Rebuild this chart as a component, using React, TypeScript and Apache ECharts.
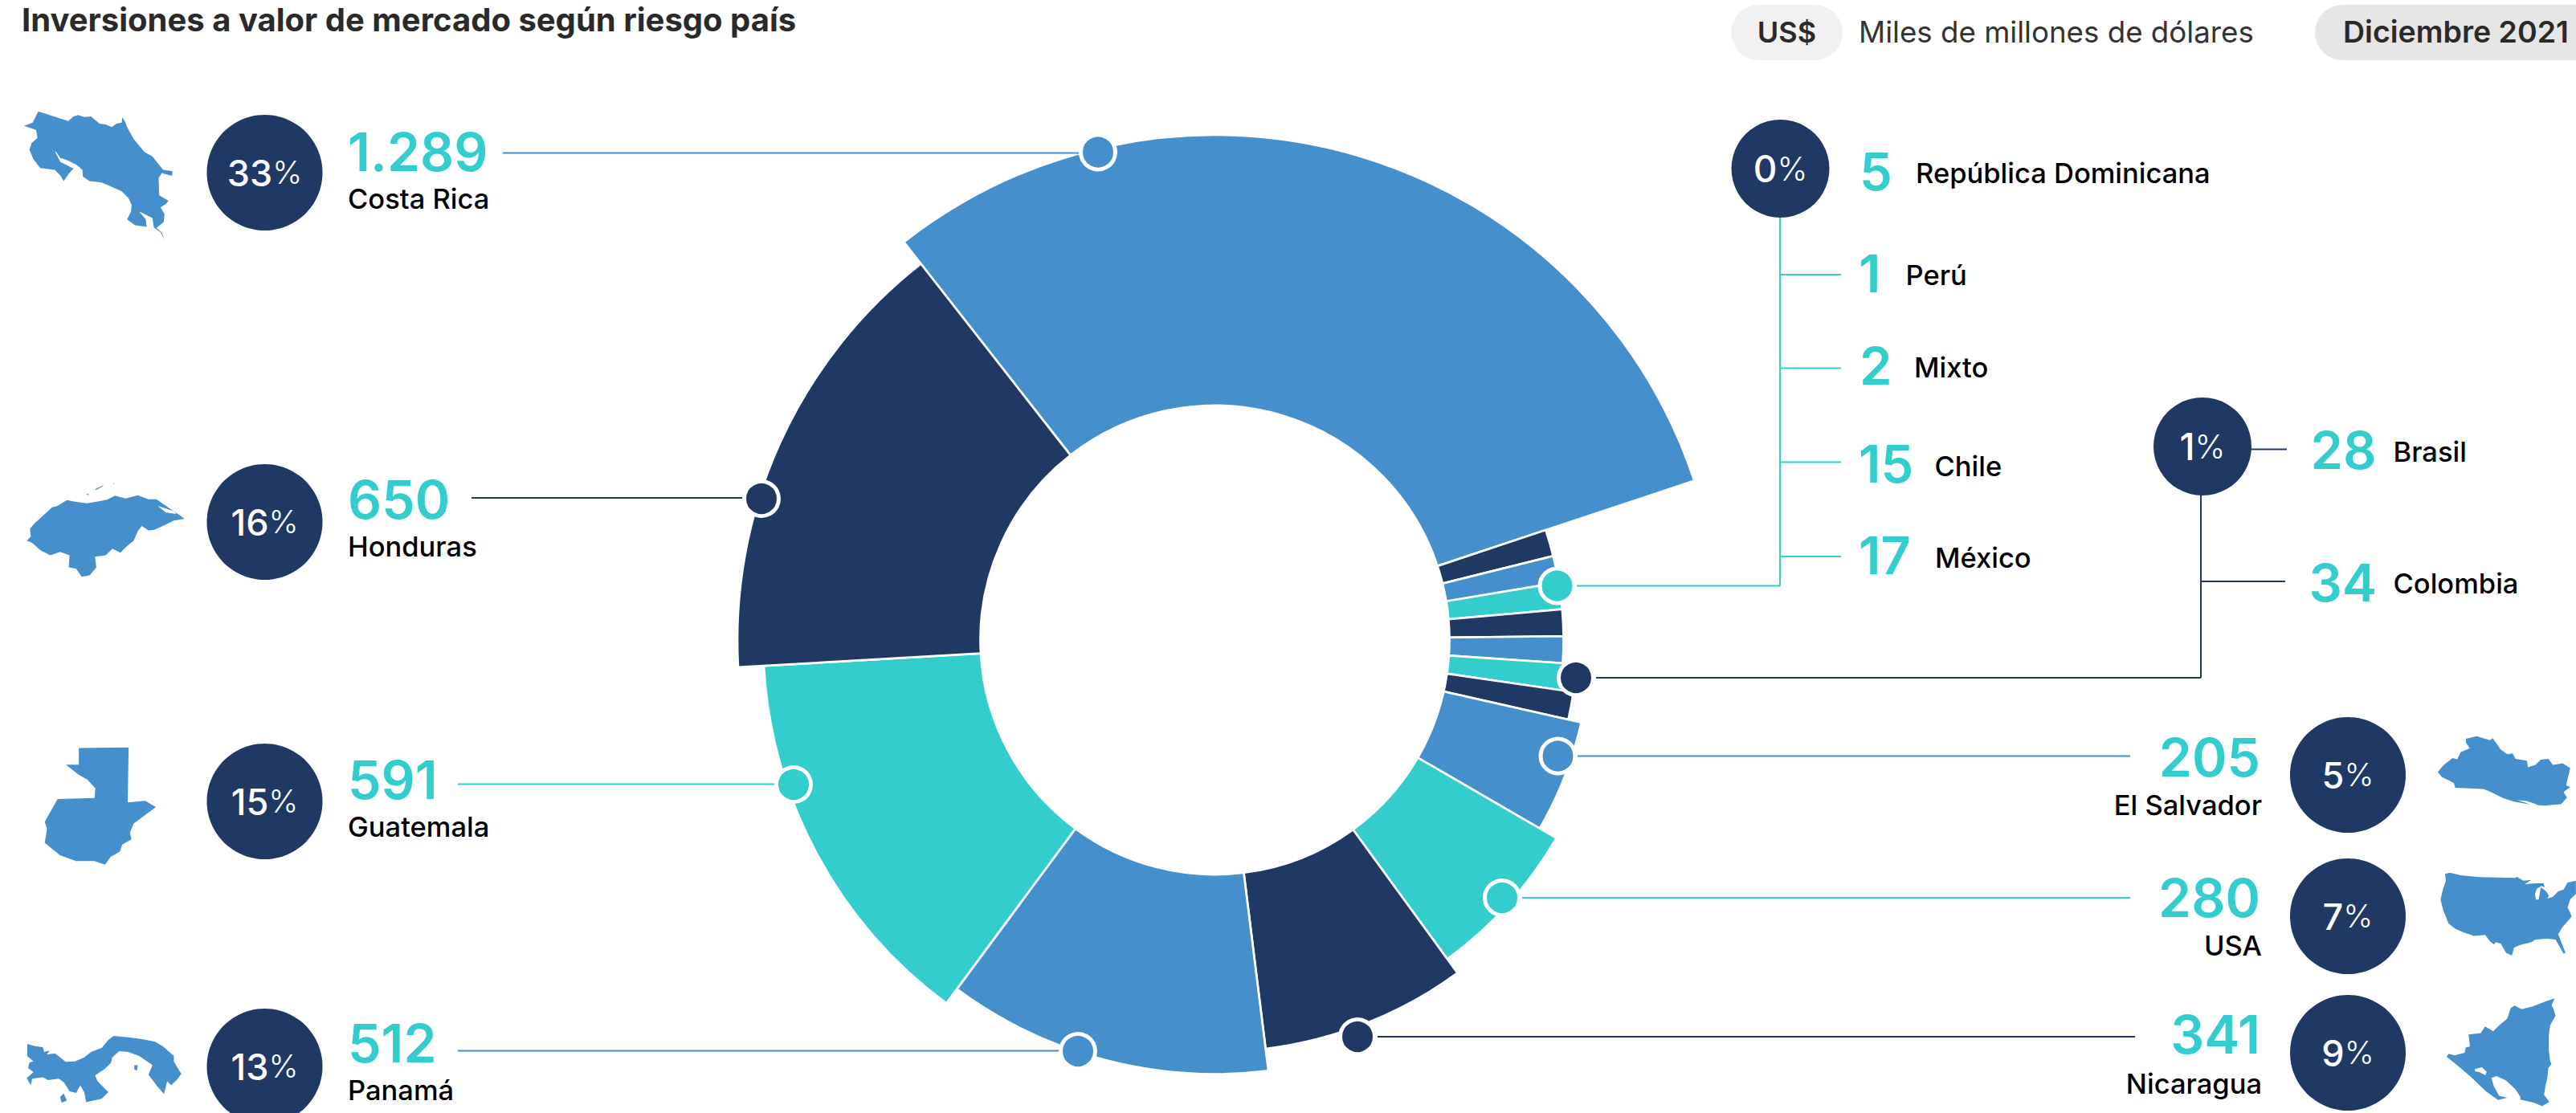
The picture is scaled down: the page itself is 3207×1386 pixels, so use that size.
import React, { useEffect, useRef } from "react";
import * as echarts from "echarts";

// Slices run clockwise, starting with the largest position.
const categories = ["Costa Rica", "República Dominicana", "Perú", "Mixto", "Chile", "México", "Brasil", "Colombia", "El Salvador", "USA", "Nicaragua", "Panamá", "Guatemala", "Honduras"];
const investedValues = [1289, 5, 1, 2, 15, 17, 28, 34, 205, 280, 341, 512, 591, 650];
const valueLabels = ["1.289", "5", "1", "2", "15", "17", "28", "34", "205", "280", "341", "512", "591", "650"];
const groupShares = ["33", "0", "1", "5", "7", "9", "13", "15", "16"];

const TITLE = "Inversiones a valor de mercado según riesgo país";
const CURRENCY = "US$";
const UNIT = "Miles de millones de dólares";
const PERIOD = "Diciembre 2021";

const BLUE = "#468FCD";
const NAVY = "#203864";
const TEAL = "#33CDCD";
const FONT = "Inter, 'Noto Sans', sans-serif";

const sliceColors = [BLUE, NAVY, BLUE, TEAL, NAVY, BLUE, TEAL, NAVY, BLUE, TEAL, NAVY, BLUE, TEAL, NAVY];
const outerRadii = [629, 434, 434, 434, 434, 434, 451, 451, 467.5, 491.5, 513, 540.5, 562.5, 594.5];
const INNER_RADIUS = 292;
const CENTER: [number, number] = [1512.5, 797];
const START_ANGLE = 128;
const MIN_SLICE_ANGLE = 4.44;

// Country silhouettes: outline points on a grid, with the grid's placement on the page.
type Outline = { points: number[][]; extra?: number[][][]; holes?: number[][][]; ox: number; oy: number; sx: number; sy: number };
const third = { sx: 1 / 3, sy: 1 / 3 };

const costaRicaOutline: Outline = { ...third, ox: 20, oy: 130, points: [[83, 26], [195, 62], [215, 45], [232, 40], [255, 47], [280, 45], [312, 72], [335, 75], [358, 85], [375, 72], [395, 68], [397, 48], [408, 65], [415, 85], [440, 130], [480, 178], [510, 195], [530, 220], [550, 245], [585, 250], [583, 267], [545, 257], [533, 275], [535, 340], [570, 360], [560, 372], [540, 385], [555, 410], [552, 440], [525, 462], [545, 480], [555, 505], [540, 478], [515, 460], [510, 425], [490, 415], [460, 400], [485, 430], [488, 458], [445, 452], [415, 430], [430, 400], [432, 375], [420, 350], [395, 325], [350, 305], [320, 292], [275, 287], [250, 270], [248, 245], [225, 225], [190, 208], [165, 200], [150, 178], [145, 175], [165, 215], [215, 240], [200, 255], [178, 287], [165, 265], [145, 245], [90, 238], [65, 205], [50, 170], [58, 145], [80, 125], [75, 95], [30, 80], [62, 68]] };
const hondurasOutline: Outline = { ...third, ox: 20, oy: 590, points: [[40, 250], [55, 235], [52, 205], [70, 185], [135, 125], [155, 120], [190, 98], [225, 105], [265, 110], [310, 103], [340, 97], [370, 82], [410, 92], [455, 80], [495, 95], [525, 95], [575, 130], [605, 150], [630, 168], [590, 175], [555, 192], [515, 210], [495, 212], [470, 195], [455, 215], [440, 250], [415, 270], [390, 295], [360, 280], [335, 305], [295, 310], [300, 350], [275, 380], [245, 385], [225, 355], [197, 350], [200, 305], [165, 292], [128, 305], [90, 285], [60, 258]], extra: [[[295, 58], [328, 42], [322, 48], [300, 60]], [[262, 76], [272, 75], [270, 80]], [[362, 38], [368, 34], [365, 40]]], holes: [[[530, 120], [590, 140], [600, 150], [560, 145]]] };
const guatemalaOutline: Outline = { ox: 0, oy: 700, sx: 1 / 1.742, sy: 1 / 2.286, points: [[171, 530], [279, 528], [277, 685], [315, 680], [338, 698], [290, 745], [282, 770], [285, 790], [265, 805], [260, 825], [240, 840], [228, 862], [205, 852], [165, 852], [130, 835], [97, 800], [102, 760], [97, 740], [125, 675], [205, 672], [207, 645], [190, 620], [170, 605], [143, 577], [171, 577]] };
const panamaOutline: Outline = { ...third, ox: 20, oy: 1280, points: [[42, 60], [70, 68], [100, 72], [105, 90], [125, 85], [115, 100], [145, 95], [165, 110], [185, 127], [220, 125], [255, 110], [280, 90], [320, 75], [345, 45], [365, 30], [420, 35], [470, 42], [520, 52], [550, 70], [590, 105], [590, 125], [610, 160], [618, 172], [600, 195], [580, 215], [565, 200], [553, 248], [525, 215], [495, 175], [510, 140], [490, 125], [460, 105], [420, 90], [385, 87], [360, 110], [355, 130], [330, 155], [295, 178], [305, 200], [345, 240], [320, 265], [262, 278], [255, 240], [240, 215], [225, 243], [200, 237], [180, 205], [160, 190], [120, 195], [100, 185], [60, 190], [55, 215], [40, 188], [65, 165], [45, 150], [50, 130], [65, 125], [42, 105]], extra: [[[165, 258], [178, 245], [190, 272], [170, 280]], [[442, 140], [455, 140], [452, 160], [442, 155]]] };
const elSalvadorOutline: Outline = { ...third, ox: 3020, oy: 900, points: [[150, 60], [190, 50], [240, 65], [250, 58], [280, 100], [305, 118], [325, 115], [335, 135], [378, 142], [382, 167], [410, 158], [430, 138], [458, 135], [475, 158], [512, 152], [540, 170], [530, 210], [525, 235], [540, 240], [515, 260], [528, 280], [505, 305], [440, 310], [385, 305], [330, 295], [290, 282], [235, 255], [215, 248], [110, 243], [105, 225], [60, 203], [45, 185], [65, 160], [100, 132], [118, 137], [130, 110], [165, 95], [150, 75]], holes: [[[340, 290], [375, 292], [400, 300], [420, 308], [395, 308], [370, 298]]] };
const usaOutline: Outline = { ...third, ox: 3020, oy: 1075, points: [[72, 40], [90, 35], [130, 45], [200, 52], [335, 55], [340, 50], [365, 65], [395, 62], [370, 78], [410, 75], [440, 75], [445, 90], [432, 85], [415, 95], [408, 115], [412, 137], [422, 135], [430, 90], [450, 105], [460, 120], [455, 132], [475, 125], [495, 105], [515, 98], [530, 72], [561, 65], [561, 115], [540, 135], [530, 165], [540, 185], [545, 200], [510, 240], [495, 265], [522, 335], [515, 338], [485, 285], [455, 282], [410, 285], [395, 295], [355, 305], [330, 315], [322, 345], [300, 335], [280, 300], [262, 295], [255, 303], [240, 292], [222, 268], [180, 272], [140, 258], [110, 245], [85, 225], [65, 175], [55, 135], [65, 95], [75, 65]] };
const nicaraguaOutline: Outline = { ...third, ox: 3020, oy: 1235, points: [[482, 25], [470, 50], [478, 65], [485, 90], [465, 125], [460, 160], [460, 220], [465, 260], [470, 270], [458, 285], [455, 320], [448, 350], [442, 385], [462, 412], [435, 428], [405, 415], [360, 405], [310, 395], [270, 405], [225, 372], [170, 320], [130, 285], [78, 243], [85, 232], [108, 238], [145, 228], [150, 208], [165, 205], [160, 160], [205, 155], [222, 130], [252, 148], [270, 130], [305, 100], [318, 60], [332, 52], [358, 65], [400, 55], [450, 35]], holes: [[[245, 322], [265, 315], [300, 332], [335, 365], [355, 395], [350, 410], [310, 397], [275, 390], [255, 355]], [[182, 290], [210, 282], [228, 300], [222, 312], [200, 300], [185, 298]]] };
const outlines = [costaRicaOutline, hondurasOutline, guatemalaOutline, panamaOutline, elSalvadorOutline, usaOutline, nicaraguaOutline];

// Text anchored on its alphabetic baseline.
function text(content: string, x: number, baseline: number, size: number, weight: number, fill: string, align: "left" | "right" | "center" = "left") {
  return {
    type: "text", z: 30, x, y: baseline - size * 0.365,
    style: { text: content, fontFamily: FONT, fontSize: size, fontWeight: weight, fill, align, verticalAlign: "middle" },
  };
}

function line(x1: number, y1: number, x2: number, y2: number, stroke: string) {
  return { type: "line", z: 10, shape: { x1, y1, x2, y2 }, style: { stroke, lineWidth: 2 } };
}

function dot(cx: number, cy: number, fill: string) {
  return { type: "circle", z: 20, shape: { cx, cy, r: 21.5 }, style: { fill, stroke: "#fff", lineWidth: 5 } };
}

function shareBadge(cx: number, cy: number, r: number, share: string, size: number) {
  return [
    { type: "circle", z: 25, shape: { cx, cy, r }, style: { fill: NAVY } },
    {
      type: "text", z: 30, x: cx, y: cy,
      style: {
        text: `{d|${share}}{p|%}`, align: "center", verticalAlign: "middle",
        rich: {
          d: { fontFamily: FONT, fontSize: size, fontWeight: 500, fill: "#fff" },
          p: { fontFamily: FONT, fontSize: size * 0.88, fontWeight: 300, fill: "#fff" },
        },
      },
    },
  ];
}

function silhouette(o: Outline) {
  const place = { x: o.ox, y: o.oy, scaleX: o.sx, scaleY: o.sy, z: 15 };
  return [
    { type: "polygon", ...place, shape: { points: o.points }, style: { fill: BLUE } },
    ...(o.extra ?? []).map((h) => ({ type: "polygon", ...place, shape: { points: h }, style: { fill: BLUE } })),
    ...(o.holes ?? []).map((h) => ({ type: "polygon", ...place, z: 16, shape: { points: h }, style: { fill: "#fff" } })),
  ];
}

const NUM = 66;
const NUM_W = 600;
const NAME = 34.5;

function buildGraphics() {
  const v = (name: string) => valueLabels[categories.indexOf(name)];
  return [
    text(TITLE, 27, 39, 40, 700, "#2a2a2a"),
    { type: "rect", z: 5, shape: { x: 2155, y: 6, width: 139, height: 69, r: 34.5 }, style: { fill: "#F1F1F1" } },
    text(CURRENCY, 2224.5, 53, 36, 600, "#2a2a2a", "center"),
    text(UNIT, 2314, 53, 36.7, 400, "#333333"),
    { type: "rect", z: 5, shape: { x: 2882, y: 6, width: 360, height: 69, r: 34.5 }, style: { fill: "#E6E6E6" } },
    text(PERIOD, 2917, 53, 37.5, 600, "#2a2a2a"),

    ...outlines.flatMap(silhouette),

    // Left column
    ...shareBadge(329.5, 215, 72, groupShares[0], 45),
    text(v("Costa Rica"), 433, 213, NUM, NUM_W, TEAL),
    text("Costa Rica", 433, 260, NAME, 500, "#000"),
    line(626, 190.5, 1367, 190.5, BLUE),
    dot(1367, 189.5, BLUE),

    ...shareBadge(329.5, 650, 72, groupShares[8], 45),
    text(v("Honduras"), 433, 646, NUM, NUM_W, TEAL),
    text("Honduras", 433, 693, NAME, 500, "#000"),
    line(587, 620, 948, 620, NAVY),
    dot(948, 621, NAVY),

    ...shareBadge(329.5, 998, 72, groupShares[7], 45),
    text(v("Guatemala"), 433, 995, NUM, NUM_W, TEAL),
    text("Guatemala", 433, 1042, NAME, 500, "#000"),
    line(570, 976.5, 988, 976.5, TEAL),
    dot(988, 977, TEAL),

    ...shareBadge(329.5, 1328, 72, groupShares[6], 45),
    text(v("Panamá"), 433, 1323, NUM, NUM_W, TEAL),
    text("Panamá", 433, 1370.5, NAME, 500, "#000"),
    line(570, 1308.5, 1342, 1308.5, BLUE),
    dot(1342, 1309, BLUE),

    // Right column
    ...shareBadge(2923, 965, 72, groupShares[3], 45),
    text(v("El Salvador"), 2814, 967, NUM, NUM_W, TEAL, "right"),
    text("El Salvador", 2816, 1015.5, NAME, 500, "#000", "right"),
    line(1964, 941.5, 2652, 941.5, BLUE),
    dot(1939.5, 941.5, BLUE),

    ...shareBadge(2923, 1141, 72, groupShares[4], 45),
    text(v("USA"), 2814, 1142, NUM, NUM_W, TEAL, "right"),
    text("USA", 2816, 1190.5, NAME, 500, "#000", "right"),
    line(1895, 1118, 2652, 1118, TEAL),
    dot(1870, 1118, TEAL),

    ...shareBadge(2923, 1311, 72, groupShares[5], 45),
    text(v("Nicaragua"), 2814, 1312, NUM, NUM_W, TEAL, "right"),
    text("Nicaragua", 2816, 1362, NAME, 500, "#000", "right"),
    line(1715, 1291, 2658, 1291, NAVY),
    dot(1690, 1291, NAVY),

    // Smaller positions grouped under the 0% badge
    ...shareBadge(2216.5, 210, 61, groupShares[1], 46),
    line(1963, 729.5, 2216, 729.5, TEAL),
    line(2216, 729.5, 2216, 270, TEAL),
    line(2216, 342, 2292, 342, TEAL),
    line(2216, 458.5, 2292, 458.5, TEAL),
    line(2216, 575.5, 2292, 575.5, TEAL),
    line(2216, 693, 2292, 693, TEAL),
    dot(1938.5, 729.5, TEAL),
    text(v("República Dominicana"), 2315, 237.5, 65, NUM_W, TEAL),
    text("República Dominicana", 2385, 228, NAME, 500, "#000"),
    text(v("Perú"), 2314, 364.5, 65, NUM_W, TEAL),
    text("Perú", 2372.5, 355, NAME, 500, "#000"),
    text(v("Mixto"), 2315, 479, 65, NUM_W, TEAL),
    text("Mixto", 2383, 470, NAME, 500, "#000"),
    text(v("Chile"), 2314, 601, 65, NUM_W, TEAL),
    text("Chile", 2408.5, 593, NAME, 500, "#000"),
    text(v("México"), 2314, 715.5, 65, NUM_W, TEAL),
    text("México", 2409, 707, NAME, 500, "#000"),

    // Brasil and Colombia under the 1% badge
    ...shareBadge(2742, 556, 61, groupShares[2], 46),
    line(1987, 844, 2740, 844, NAVY),
    line(2740, 844, 2740, 615, NAVY),
    line(2800, 559.5, 2847, 559.5, NAVY),
    line(2740, 724, 2845, 724, NAVY),
    dot(1962, 844, NAVY),
    text(v("Brasil"), 2876.5, 584, 65, NUM_W, TEAL),
    text("Brasil", 2979.5, 575, NAME, 500, "#000"),
    text(v("Colombia"), 2874.5, 749, 65, NUM_W, TEAL),
    text("Colombia", 2979.5, 739, NAME, 500, "#000"),
  ];
}

// One pie per slice: all share the same values and angles, and each one
// paints only its own slice at its own outer radius.
function buildSeries() {
  return categories.map((_, i) => ({
    type: "pie",
    silent: true,
    center: CENTER,
    radius: [INNER_RADIUS, outerRadii[i]],
    startAngle: START_ANGLE,
    minAngle: MIN_SLICE_ANGLE,
    avoidLabelOverlap: false,
    label: { show: false },
    labelLine: { show: false },
    emphasis: { disabled: true },
    z: 2 + i,
    data: categories.map((name, j) => ({
      name,
      value: investedValues[j],
      itemStyle: j === i
        ? { color: sliceColors[j], borderColor: "#fff", borderWidth: 2.7 }
        : { color: "transparent", borderWidth: 0 },
    })),
  }));
}

export default function App() {
  const ref = useRef<HTMLDivElement>(null);
  useEffect(() => {
    document.body.style.margin = "0";
    const chart = echarts.init(ref.current!, undefined, { renderer: "svg" });
    chart.setOption({
      animation: false,
      backgroundColor: "#fff",
      tooltip: { show: false },
      legend: { show: false },
      series: buildSeries(),
      graphic: { elements: buildGraphics() },
    });
    return () => chart.dispose();
  }, []);
  return <div ref={ref} style={{ width: 3207, height: 1386, overflow: "hidden" }} />;
}
